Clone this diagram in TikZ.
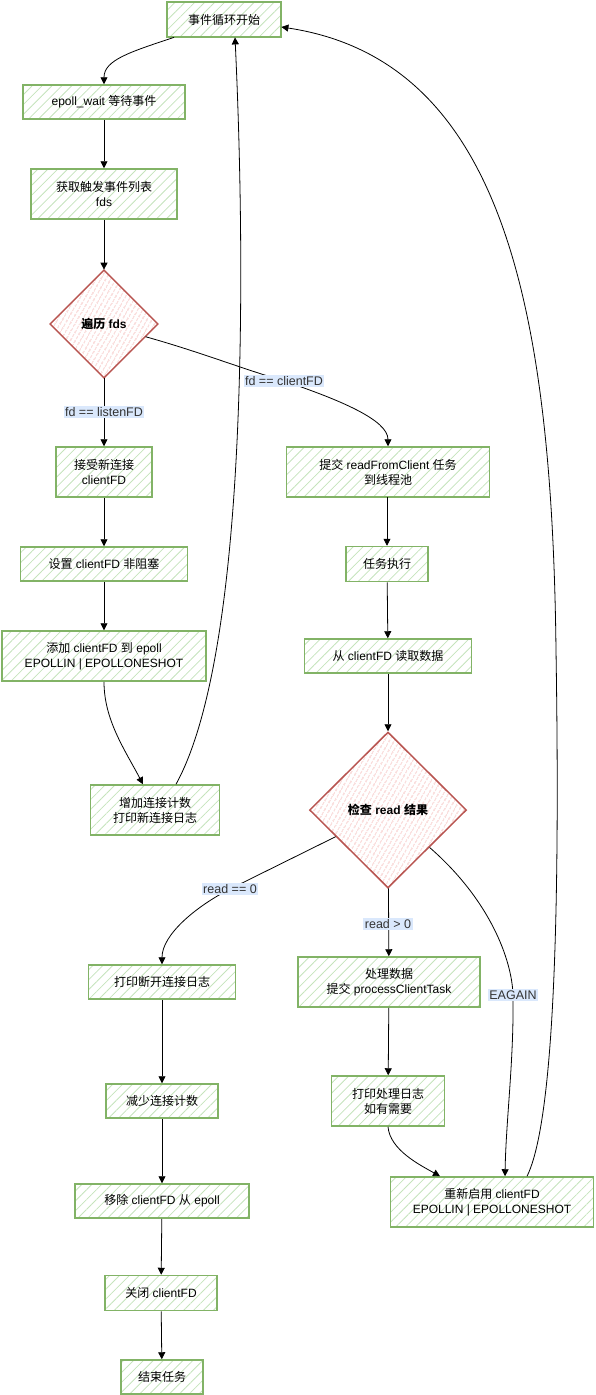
\documentclass[tikz,border=0pt]{standalone}
\usepackage{fontspec}
\setmainfont{Liberation Sans}
\newfontfamily\cjk{Noto Sans CJK SC}
\newcommand\zh[1]{{\cjk #1}}
\usetikzlibrary{arrows.meta,patterns.meta,calc,shapes.geometric}
\definecolor{gstroke}{HTML}{82B366}
\definecolor{gfill}{HTML}{C5E3BC}
\definecolor{rstroke}{HTML}{B85450}
\definecolor{rfill}{HTML}{F0A4A1}
\definecolor{lblfill}{HTML}{DAE8FC}
\begin{document}
\begin{tikzpicture}[x=1pt,y=-1pt,
  font=\fontsize{12}{15}\selectfont,
  box/.style={draw=gstroke, line width=1.5pt,
    pattern={Lines[angle=45,distance=7pt,line width=0.8pt]}, pattern color=gfill,
    align=center, inner sep=2pt},
  dia/.style={diamond, draw=rstroke, line width=1.5pt,
    pattern={Lines[angle=60,distance=4pt,line width=0.7pt]}, pattern color=rfill,
    align=center, inner sep=0pt, font=\fontsize{12}{15}\selectfont\bfseries},
  conn/.style={-{Triangle[length=7pt,width=7pt]}, line width=0.8pt, black},
  lbl/.style={fill=lblfill, inner sep=1.5pt, text=black!80, font=\fontsize{12.5}{15}\selectfont}
]
\useasboundingbox (0,0) rectangle (595,1395);

% nodes
\node[box, minimum width=114, minimum height=35] (start) at (224,19.5) {\zh{事件循环开始}};
\node[box, minimum width=162, minimum height=34] (wait) at (104,102) {epoll\_wait \zh{等待事件}};
\node[box, minimum width=146, minimum height=50] (fds) at (104,194) {\zh{获取触发事件列表}\\fds};
\node[dia, minimum width=108, minimum height=108] (iter) at (104,324) {\zh{遍历} fds};
\node[box, minimum width=96, minimum height=50] (accept) at (104,472) {\zh{接受新连接}\\clientFD};
\node[box, minimum width=167, minimum height=34] (nonblock) at (104,564) {\zh{设置} clientFD \zh{非阻塞}};
\node[box, minimum width=204, minimum height=50] (add) at (104,656) {\zh{添加} clientFD \zh{到} epoll\\EPOLLIN | EPOLLONESHOT};
\node[box, minimum width=129, minimum height=50] (inc) at (155,810) {\zh{增加连接计数}\\\zh{打印新连接日志}};
\node[box, minimum width=203, minimum height=50] (submit) at (388,472) {\zh{提交} readFromClient \zh{任务}\\\zh{到线程池}};
\node[box, minimum width=82, minimum height=35] (exec) at (387,564) {\zh{任务执行}};
\node[box, minimum width=167, minimum height=34] (readfd) at (388,656) {\zh{从} clientFD \zh{读取数据}};
\node[dia, minimum width=157, minimum height=156] (check) at (388,810) {\zh{检查} read \zh{结果}};
\node[box, minimum width=147, minimum height=34] (disc) at (162,982) {\zh{打印断开连接日志}};
\node[box, minimum width=112, minimum height=34] (dec) at (162,1101) {\zh{减少连接计数}};
\node[box, minimum width=174, minimum height=34] (remove) at (162,1201) {\zh{移除} clientFD \zh{从} epoll};
\node[box, minimum width=112, minimum height=35] (closefd) at (161,1293) {\zh{关闭} clientFD};
\node[box, minimum width=82, minimum height=34] (finish) at (162,1377) {\zh{结束任务}};
\node[box, minimum width=182, minimum height=50] (proc) at (389,982) {\zh{处理数据}\\\zh{提交} processClientTask};
\node[box, minimum width=113, minimum height=50] (plog) at (388,1101) {\zh{打印处理日志}\\\zh{如有需要}};
\node[box, minimum width=203, minimum height=50] (reen) at (492,1202) {\zh{重新启用} clientFD\\EPOLLIN | EPOLLONESHOT};

% label positions
\coordinate (lpc) at (284,381);
\coordinate (lpz) at (230,889);
\coordinate (lpe) at (513,995);

% straight connectors
\draw[conn] (wait) -- (fds);
\draw[conn] (fds) -- (iter);
\draw[conn] (iter) -- (accept);
\draw[conn] (accept) -- (nonblock);
\draw[conn] (nonblock) -- (add);
\draw[conn] (submit.south) -- (exec.south |- submit.south) -- (exec);
\draw[conn] (exec) -- (readfd);
\draw[conn] (readfd) -- (check);
\draw[conn] (check) -- (proc);
\draw[conn] (proc) -- (plog);
\draw[conn] (disc) -- (dec);
\draw[conn] (dec) -- (remove);
\draw[conn] (remove) -- (closefd);
\draw[conn] (closefd) -- (finish);

% curved connectors
\draw[conn] ([xshift=-50pt]start.south) .. controls (130,52) and (104,60) .. (wait.north);
\draw[conn] (iter.-17) .. controls (200,352) and (240,368) .. (lpc)
  .. controls (340,400) and (388,420) .. (submit.north);
\draw[conn] (add.south) .. controls (104,720) and (125,750) .. ([xshift=-12pt]inc.north);
\draw[conn] ([xshift=21pt]inc.north) .. controls (250,650) and (245,250) .. ([xshift=11pt]start.south);
\draw[conn] (check.207) -- (lpz) .. controls (195,907) and (162,935) .. (disc.north);
\draw[conn] (check.-42) .. controls (490,900) and (512,960) .. (lpe)
  .. controls (514,1060) and (506,1120) .. ([xshift=13pt]reen.north);
\draw[conn] (plog.south) .. controls (390,1150) and (420,1165) .. ([xshift=-52pt]reen.north);
\draw[conn] ([xshift=35pt]reen.north) .. controls (555,1120) and (560,900) .. (556,650)
  .. controls (552,300) and (500,60) .. ([yshift=-7.5pt]start.east);

% labels
\node[lbl] (lblc) at (lpc) {fd == clientFD};
\node[lbl] (lbll) at ($(iter.south)!0.5!(accept.north)$) {fd == listenFD};
\node[lbl] (lblz) at (lpz) {read == 0};
\node[lbl] (lblg) at (388,924) {read > 0};
\node[lbl] (lble) at (lpe) {EAGAIN};
\end{tikzpicture}
\end{document}
